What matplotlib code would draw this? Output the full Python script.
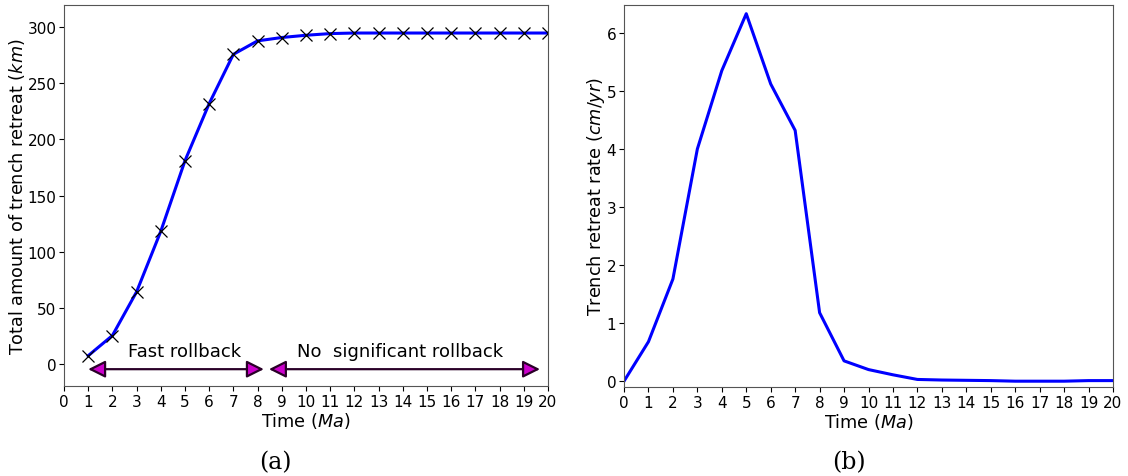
import numpy as np
import matplotlib
matplotlib.use("Agg")
import matplotlib.pyplot as plt

# cumulative trench retreat (km), t = 1..20 Ma
time_a = list(range(1, 21))
retreat_km = [7, 25, 64, 118, 181, 232, 276, 288, 291, 293,
              294.5, 295, 295, 295, 295, 295, 295, 295, 295, 295]

# trench retreat rate (cm/yr), t = 0..20 Ma
time_b = list(range(0, 21))
rate_cmyr = [0.0, 0.68, 1.76, 4.0, 5.35, 6.33, 5.12, 4.32, 1.18, 0.35, 0.2,
             0.11, 0.03, 0.02, 0.015, 0.01, 0.0, 0.0, 0.0, 0.01, 0.01]

xticks = list(range(0, 21))

# phase arrows: (start, end, label, label_x)
phases = [
    (1.0, 8.26, "Fast rollback", 5.0),
    (8.47, 19.67, "No  significant rollback", 13.9),
]
ARROW_Y = -5
LABEL_Y = 11

SPINE = "#555555"

fig = plt.figure(figsize=(11.28, 4.77), dpi=100)
ax1 = fig.add_axes([0.0567, 0.1887, 0.4291, 0.7987])
ax2 = fig.add_axes([0.5532, 0.1866, 0.4335, 0.8008])

ax1.plot(time_a, retreat_km, color="blue", lw=2.2, marker="x", ms=8,
         mec="black", mew=0.9)
for start, end, label, lx in phases:
    ax1.annotate("", xy=(end, ARROW_Y), xytext=(start, ARROW_Y),
                 arrowprops=dict(arrowstyle="<|-|>", fc="#cc00cc", ec="#2a0028",
                                 lw=1.6, mutation_scale=26, shrinkA=0, shrinkB=0))
    ax1.text(lx, LABEL_Y, label, ha="center", va="center", fontsize=13)
ax1.set_xlim(0, 20)
ax1.set_ylim(-20, 320)
ax1.set_xticks(xticks)
ax1.set_xlabel("Time ($Ma$)", fontsize=12.7, labelpad=1)
ax1.set_ylabel("Total amount of trench retreat ($km$)", fontsize=12.7, labelpad=0)

ax2.plot(time_b, rate_cmyr, color="blue", lw=2.2)
ax2.set_xlim(0, 20)
ax2.set_ylim(-0.1, 6.48)
ax2.set_xticks(xticks)
ax2.set_xlabel("Time ($Ma$)", fontsize=12.7, labelpad=1)
ax2.set_ylabel("Trench retreat rate ($cm/yr$)", fontsize=12.7, labelpad=0)

for ax in (ax1, ax2):
    ax.tick_params(labelsize=11, pad=2)
    for sp in ax.spines.values():
        sp.set_color(SPINE)

fig.text(0.244, 0.030, "(a)", ha="center", va="center", fontsize=17,
         family="DejaVu Serif")
fig.text(0.753, 0.030, "(b)", ha="center", va="center", fontsize=17,
         family="DejaVu Serif")

fig.savefig("out.png", dpi=100)
